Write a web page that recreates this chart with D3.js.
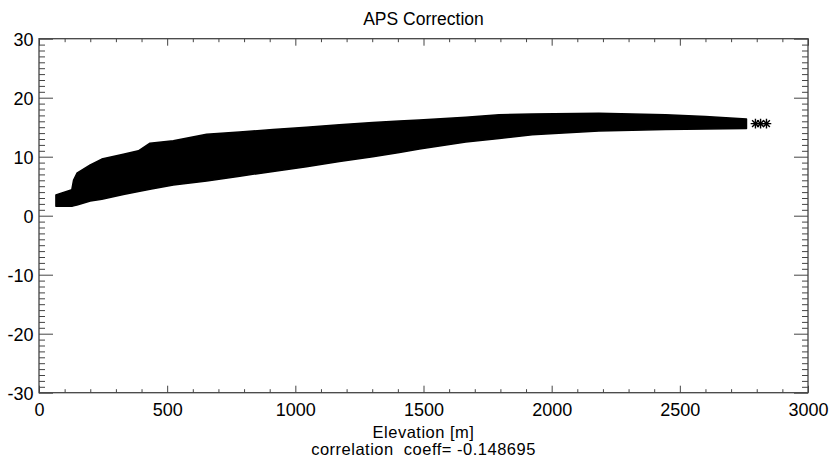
<!DOCTYPE html>
<html>
<head>
<meta charset="utf-8">
<script src="https://cdn.jsdelivr.net/npm/d3@7"></script>
<style>
  body { margin: 0; background: #fff; }
  text { font-family: "Liberation Sans", Arial, Helvetica, sans-serif; fill: #000; }
</style>
</head>
<body>
<div id="vis-scatter"></div>
<script>
// Envelope of the dense asterisk cloud
const elevation = [66, 128, 135, 148, 200, 245, 329, 388, 433, 524, 654, 783, 913, 1043, 1172, 1302, 1406, 1484, 1665, 1795, 1924, 2184, 2444, 2600, 2760];
const upperBound = [3.5, 4.4, 6.05, 7.2, 8.6, 9.6, 10.4, 11.0, 12.3, 12.7, 13.8, 14.2, 14.6, 15.0, 15.4, 15.8, 16.05, 16.2, 16.7, 17.1, 17.25, 17.35, 17.1, 16.8, 16.4];
const lowerBound = [1.6, 1.6, 1.7, 1.8, 2.5, 2.8, 3.6, 4.1, 4.5, 5.2, 5.9, 6.7, 7.5, 8.3, 9.2, 10.0, 10.7, 11.3, 12.5, 13.1, 13.7, 14.35, 14.6, 14.7, 14.8];

// isolated points beyond the cloud
const outlierElev = [2795, 2815, 2838];
const outlierValue = [15.6, 15.6, 15.6];

const xTicks = [0, 500, 1000, 1500, 2000, 2500, 3000];
const yTicks = [-30, -20, -10, 0, 10, 20, 30];

(function(){
    const width = 830, height = 459;
    const left = 39, right = 808, top = 38.7, bottom = 392.7;

    const svg = d3.select("#vis-scatter").append("svg")
        .attr("width", width)
        .attr("height", height);

    const x = d3.scaleLinear().domain([0, 3000]).range([left, right]);
    const y = d3.scaleLinear().domain([-30, 30]).range([bottom, top]);

    // the cloud
    const band = elevation.map((e, i) => ({ e: e, hi: upperBound[i], lo: lowerBound[i] }));
    const area = d3.area()
        .x(d => x(d.e))
        .y0(d => y(d.lo))
        .y1(d => y(d.hi))
        .curve(d3.curveLinear);

    svg.append("path")
        .attr("d", area(band))
        .attr("fill", "#000")
        .attr("stroke", "#000")
        .attr("stroke-width", 1.5)
        .attr("stroke-linejoin", "round");

    // asterisk symbol like IDL psym=2
    function asterisk(r) {
        const p = d3.path();
        for (let k = 0; k < 4; k++) {
            const a = k * Math.PI / 4;
            p.moveTo(-r * Math.cos(a), -r * Math.sin(a));
            p.lineTo(r * Math.cos(a), r * Math.sin(a));
        }
        return p.toString();
    }

    svg.selectAll("path.star")
        .data(outlierElev)
        .join("path")
        .attr("class", "star")
        .attr("d", asterisk(4.8))
        .attr("transform", (d, i) => `translate(${x(d)},${y(outlierValue[i])})`)
        .attr("stroke", "#000")
        .attr("stroke-width", 1.4)
        .attr("fill", "none");

    // axes on all four sides, ticks pointing inward
    const tickColor = "#444";
    const xMinor = d3.range(0, 3001, 100);
    const yMinor = d3.range(-30, 31, 1);
    const fmt = d => String(d);   // plain hyphen minus like the original

    function xAxis(yPos, dir, showLabels) {
        const g = svg.append("g").attr("transform", `translate(0,${yPos})`);
        g.call(d3.axisBottom(x).tickValues(xMinor).tickSize(0).tickFormat(""));
        g.select(".domain").remove();
        g.selectAll(".tick line")
            .attr("y2", d => dir * (d % 500 === 0 ? 7 : 3.5))
            .attr("stroke", tickColor);
        if (showLabels) {
            const lab = svg.append("g").attr("transform", `translate(0,${yPos})`)
                .call(d3.axisBottom(x).tickValues(xTicks).tickSize(0).tickPadding(0).tickFormat(fmt));
            lab.select(".domain").remove();
            lab.selectAll("text")
                .attr("dy", null)
                .attr("y", 23.8)
                .style("font-size", "18px")
                .style("font-family", "'Liberation Sans', Arial, sans-serif");
        }
    }

    function yAxis(xPos, dir, showLabels) {
        const g = svg.append("g").attr("transform", `translate(${xPos},0)`);
        g.call(d3.axisLeft(y).tickValues(yMinor).tickSize(0).tickFormat(""));
        g.select(".domain").remove();
        g.selectAll(".tick line")
            .attr("x2", d => dir * (d % 10 === 0 ? 14 : 6))
            .attr("stroke", tickColor);
        if (showLabels) {
            const lab = svg.append("g").attr("transform", `translate(${xPos},0)`)
                .call(d3.axisLeft(y).tickValues(yTicks).tickSize(0).tickPadding(5.5).tickFormat(fmt));
            lab.select(".domain").remove();
            lab.selectAll("text")
                .attr("dy", "0.36em")
                .style("font-size", "18px")
                .style("font-family", "'Liberation Sans', Arial, sans-serif");
        }
    }

    xAxis(bottom, -1, true);
    xAxis(top, 1, false);
    yAxis(left, 1, true);
    yAxis(right, -1, false);

    svg.append("rect")
        .attr("x", left).attr("y", top)
        .attr("width", right - left).attr("height", bottom - top)
        .attr("fill", "none")
        .attr("stroke", tickColor)
        .attr("stroke-width", 1.3);

    // titles
    const cx = (left + right) / 2;
    svg.append("text")
        .attr("x", cx).attr("y", 25)
        .attr("text-anchor", "middle")
        .style("font-size", "17.5px")
        .text("APS Correction");

    svg.append("text")
        .attr("x", cx).attr("y", 438)
        .attr("text-anchor", "middle")
        .style("font-size", "16.5px")
        .style("letter-spacing", "0.5px")
        .text("Elevation [m]");

    svg.append("text")
        .attr("x", cx).attr("y", 455)
        .attr("text-anchor", "middle")
        .style("font-size", "16.5px")
        .style("letter-spacing", "0.5px")
        .style("white-space", "pre")
        .text("correlation  coeff= -0.148695");
})();
</script>
</body>
</html>
